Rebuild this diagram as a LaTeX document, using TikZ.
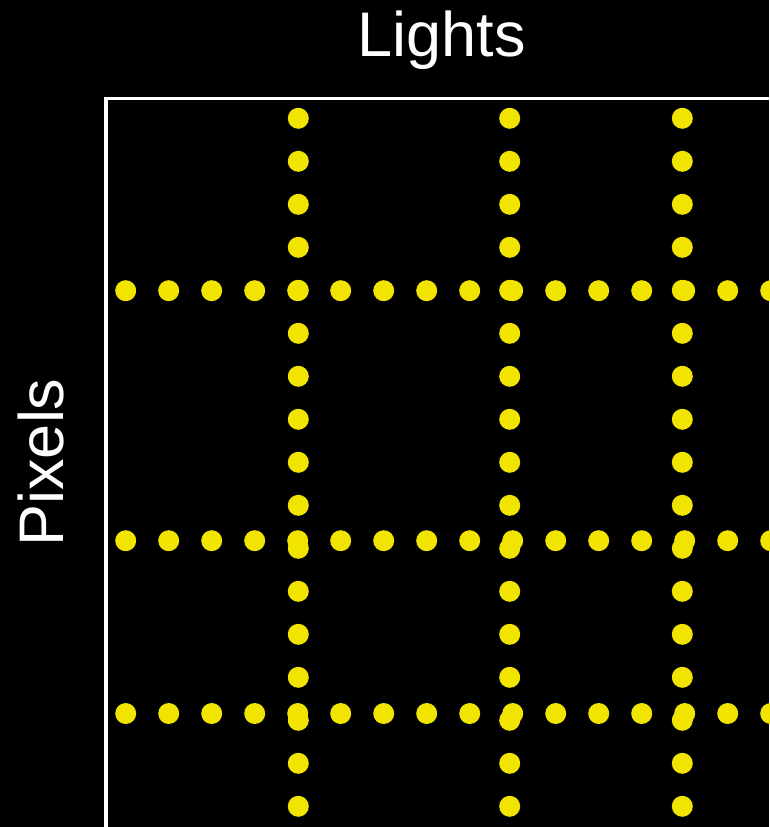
\documentclass[tikz,border=0pt]{standalone}
\usepackage{fontspec}
\setmainfont{Liberation Sans}
\definecolor{dotyellow}{RGB}{240,228,0}
\tikzset{
  px/.style={x=1pt,y=-1pt},
  dotmark/.style={fill=dotyellow},
  frameline/.style={draw=white,line width=3.5pt},
  axislabel/.style={text=white,font=\fontsize{63}{70}\selectfont,inner sep=0pt}
}
\begin{document}
\begin{tikzpicture}[px]
\fill[black] (0,0) rectangle (769,827);
\useasboundingbox (0,0) rectangle (769,827);
% frame
\draw[frameline] (106,827) -- (106,98.5) -- (771,98.5);
% labels
\node[axislabel,anchor=base] (lights) at (441.5,56.5) {Lights};
\node[axislabel,anchor=base,rotate=90] (pixels) at (63,462.5) {Pixels};
% vertical columns
\foreach \cx in {298.3,509.7,682.3}{
  \foreach \k in {0,...,16}{
    \fill[dotmark] (\cx,118.3+43*\k) circle[radius=10.5];
  }
}
% horizontal rows
\foreach \ry in {290.7,540.7,713.5}{
  \foreach \k in {0,...,15}{
    \fill[dotmark] (125.7+43*\k,\ry) circle[radius=10.5];
  }
}
\end{tikzpicture}
\end{document}
